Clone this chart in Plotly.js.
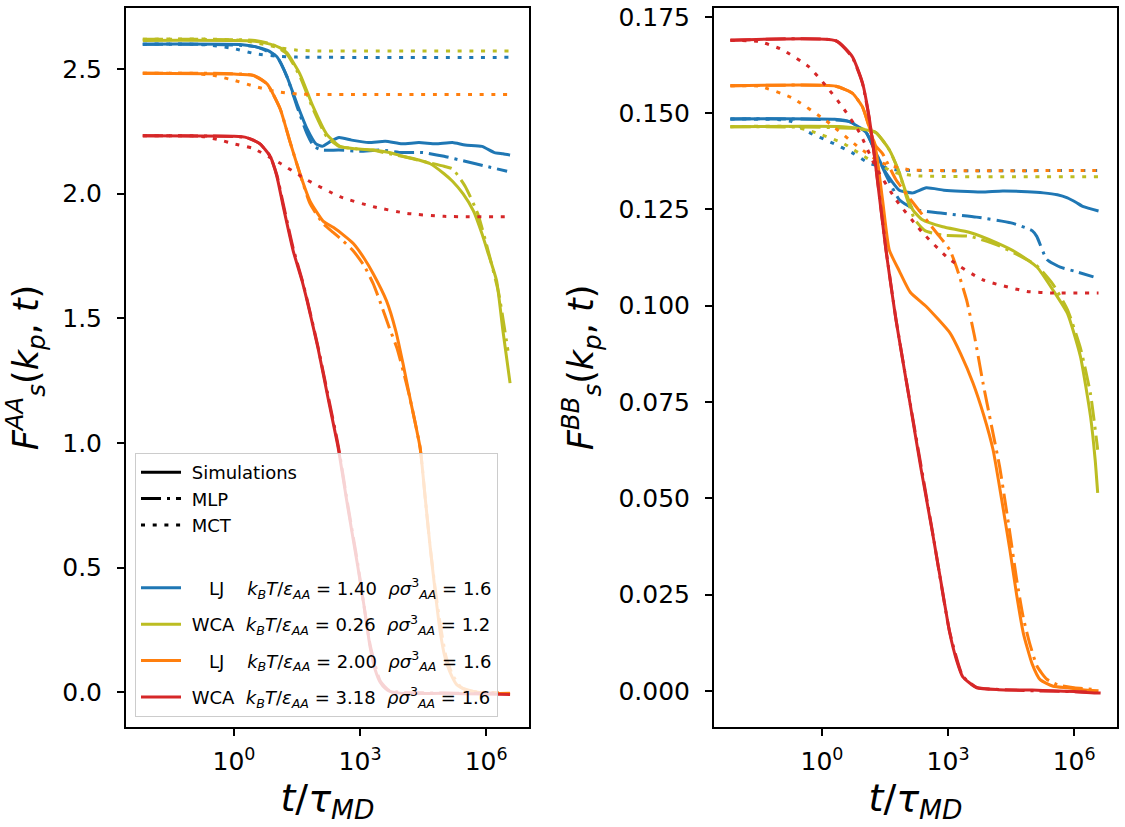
<!DOCTYPE html>
<html>
<head>
<meta charset="utf-8">
<script src="https://cdn.plot.ly/plotly-3.0.1.min.js"></script>
<style>
  body { margin: 0; background: #fff; }
  #chart { width: 1125px; height: 827px; }
</style>
</head>
<body>
<div id="chart"></div>
<script>
// every curve is a list of [log10(t/tau_MD), F_s] pairs

// left panel, F_s^AA
const aaLJ140Sim = [[-2.17, 2.600], [0.2, 2.598], [0.5, 2.59], [0.8, 2.575], [1.02, 2.55], [1.26, 2.47], [1.5, 2.36], [1.74, 2.26], [1.95, 2.20], [2.1, 2.19], [2.3, 2.21], [2.5, 2.225], [2.8, 2.215], [3.2, 2.205], [3.6, 2.21], [4.0, 2.20], [4.4, 2.205], [4.8, 2.20], [5.2, 2.205], [5.5, 2.195], [5.9, 2.19], [6.2, 2.165], [6.4, 2.16], [6.57, 2.155]];
const aaLJ140Mlp = [[-2.17, 2.600], [0.5, 2.59], [1.02, 2.55], [1.26, 2.47], [1.5, 2.35], [1.74, 2.24], [1.9, 2.19], [2.1, 2.175], [2.5, 2.175], [3.0, 2.17], [3.5, 2.175], [4.0, 2.165], [4.5, 2.165], [5.0, 2.15], [5.5, 2.13], [6.0, 2.11], [6.5, 2.09]];
const aaLJ140Mct = [[-2.17, 2.600], [-1.0, 2.600], [-0.5, 2.595], [0.0, 2.582], [0.5, 2.562], [1.0, 2.552], [1.5, 2.548], [2.5, 2.547], [6.57, 2.547]];

const aaWCA026Sim = [[-2.17, 2.615], [0.5, 2.612], [0.86, 2.60], [1.1, 2.585], [1.26, 2.565], [1.57, 2.48], [1.88, 2.35], [2.2, 2.24], [2.52, 2.19], [2.9, 2.18], [3.31, 2.175], [3.7, 2.165], [4.02, 2.15], [4.4, 2.135], [4.67, 2.12], [5.0, 2.08], [5.2, 2.05], [5.45, 2.00], [5.7, 1.93], [5.9, 1.84], [6.05, 1.76], [6.25, 1.65], [6.4, 1.45], [6.57, 1.24]];
const aaWCA026Mlp = [[-2.17, 2.62], [0.5, 2.615], [0.9, 2.60], [1.26, 2.56], [1.57, 2.47], [1.88, 2.34], [2.2, 2.23], [2.5, 2.19], [2.9, 2.18], [3.3, 2.175], [3.7, 2.16], [4.0, 2.15], [4.5, 2.13], [5.0, 2.11], [5.2, 2.10], [5.5, 2.03], [5.8, 1.92], [6.05, 1.77], [6.3, 1.60], [6.52, 1.37]];
const aaWCA026Mct = [[-2.17, 2.62], [-0.5, 2.62], [0.2, 2.615], [0.7, 2.60], [1.1, 2.585], [1.5, 2.576], [2.0, 2.573], [6.57, 2.573]];

const aaLJ200Sim = [[-2.17, 2.483], [0.0, 2.48], [0.45, 2.475], [0.79, 2.44], [1.1, 2.34], [1.33, 2.21], [1.57, 2.08], [1.81, 1.97], [2.12, 1.89], [2.36, 1.865], [2.6, 1.835], [2.84, 1.80], [3.1, 1.74], [3.31, 1.68], [3.63, 1.57], [3.85, 1.45], [4.02, 1.32], [4.2, 1.17], [4.43, 0.98], [4.55, 0.78], [4.67, 0.58], [4.79, 0.40], [4.90, 0.25], [5.02, 0.14], [5.14, 0.08], [5.3, 0.03], [5.5, 0.01], [5.8, 0.0], [6.2, -0.005], [6.57, -0.005]];
const aaLJ200Mlp = [[-2.17, 2.483], [0.45, 2.475], [0.79, 2.44], [1.1, 2.34], [1.33, 2.21], [1.57, 2.08], [1.81, 1.96], [2.12, 1.88], [2.36, 1.845], [2.6, 1.81], [2.84, 1.77], [3.1, 1.71], [3.31, 1.64], [3.47, 1.57], [3.7, 1.46], [3.88, 1.38], [4.1, 1.24], [4.2, 1.17], [4.43, 0.98], [4.55, 0.78], [4.67, 0.58], [4.8, 0.40], [4.92, 0.26], [5.05, 0.14], [5.2, 0.07], [5.4, 0.02], [5.7, 0.003], [6.3, -0.003]];
const aaLJ200Mct = [[-2.17, 2.483], [-1.0, 2.483], [-0.5, 2.475], [0.0, 2.455], [0.5, 2.43], [1.0, 2.41], [1.5, 2.40], [2.0, 2.398], [6.57, 2.398]];

const aaWCA318Sim = [[-2.17, 2.232], [0.0, 2.23], [0.3, 2.225], [0.62, 2.20], [0.86, 2.15], [1.02, 2.07], [1.17, 1.95], [1.41, 1.77], [1.62, 1.65], [1.74, 1.57], [2.0, 1.38], [2.25, 1.17], [2.48, 0.98], [2.7, 0.75], [2.95, 0.50], [3.1, 0.34], [3.24, 0.18], [3.36, 0.09], [3.48, 0.04], [3.6, 0.015], [3.71, 0.003], [4.0, -0.005], [5.0, -0.005], [6.0, -0.008], [6.57, -0.01]];
const aaWCA318Mlp = [[-2.17, 2.232], [0.3, 2.225], [0.62, 2.20], [0.86, 2.15], [1.02, 2.075], [1.17, 1.96], [1.41, 1.78], [1.62, 1.655], [1.74, 1.575], [2.0, 1.385], [2.25, 1.18], [2.48, 0.99], [2.7, 0.76], [2.95, 0.51], [3.24, 0.19], [3.48, 0.045], [3.71, 0.005], [4.5, -0.003], [6.3, -0.005]];
const aaWCA318Mct = [[-2.17, 2.232], [-1.0, 2.232], [-0.7, 2.228], [-0.33, 2.215], [0.0, 2.20], [0.45, 2.182], [1.1, 2.122], [1.74, 2.055], [2.52, 1.988], [3.31, 1.948], [4.12, 1.921], [5.0, 1.909], [6.57, 1.907]];

// right panel, F_s^BB
const bbLJ140Sim = [[-2.18, 0.1485], [0.3, 0.1484], [0.65, 0.1478], [1.05, 0.145], [1.28, 0.1397], [1.52, 0.1345], [1.84, 0.1300], [2.16, 0.1293], [2.48, 0.1306], [2.9, 0.1300], [3.3, 0.1297], [3.8, 0.1295], [4.3, 0.1298], [4.88, 0.1296], [5.27, 0.1293], [5.6, 0.1288], [5.84, 0.1280], [6.05, 0.1268], [6.22, 0.1257], [6.58, 0.1246]];
const bbLJ140Mlp = [[-2.18, 0.1485], [0.65, 0.1478], [1.05, 0.145], [1.28, 0.1397], [1.52, 0.134], [1.84, 0.1275], [2.24, 0.1249], [2.87, 0.1240], [3.68, 0.1230], [4.5, 0.1215], [5.0, 0.1195], [5.11, 0.118], [5.35, 0.112], [5.67, 0.110], [6.0, 0.109], [6.46, 0.1075]];
const bbLJ140Mct = [[-2.18, 0.1485], [-1.0, 0.1483], [-0.72, 0.1478], [-0.31, 0.145], [0.24, 0.1423], [0.72, 0.1397], [1.12, 0.137], [1.76, 0.1353], [2.3, 0.1351], [6.58, 0.1351]];

const bbWCA026Sim = [[-2.18, 0.1465], [0.5, 0.1465], [0.89, 0.146], [1.28, 0.145], [1.6, 0.1405], [1.84, 0.1345], [2.0, 0.1293], [2.16, 0.1249], [2.39, 0.1223], [2.87, 0.1205], [3.52, 0.1190], [4.16, 0.1163], [4.64, 0.1137], [5.12, 0.1100], [5.5, 0.1040], [5.84, 0.0980], [6.15, 0.0868], [6.39, 0.0712], [6.5, 0.0600], [6.56, 0.0514]];
const bbWCA026Mlp = [[-2.18, 0.1465], [0.89, 0.146], [1.28, 0.145], [1.6, 0.1405], [1.84, 0.1345], [2.0, 0.1285], [2.2, 0.1225], [2.45, 0.1195], [2.87, 0.1183], [3.52, 0.1180], [4.16, 0.1158], [4.64, 0.1133], [5.1, 0.1105], [5.5, 0.1055], [5.84, 0.0990], [6.15, 0.0890], [6.39, 0.0770], [6.56, 0.0626]];
const bbWCA026Mct = [[-2.18, 0.1465], [-0.7, 0.1465], [-0.31, 0.1455], [0.48, 0.1423], [1.12, 0.138], [1.76, 0.1345], [2.3, 0.1337], [6.58, 0.1335]];

const bbLJ200Sim = [[-2.18, 0.1571], [0.33, 0.157], [0.72, 0.1552], [0.96, 0.1517], [1.12, 0.1465], [1.28, 0.1405], [1.44, 0.1275], [1.6, 0.1145], [1.84, 0.109], [2.1, 0.1035], [2.48, 0.0998], [3.04, 0.093], [3.3, 0.0875], [3.59, 0.080], [3.85, 0.0715], [4.07, 0.0626], [4.27, 0.050], [4.47, 0.0366], [4.63, 0.025], [4.79, 0.015], [5.0, 0.007], [5.19, 0.0029], [5.5, 0.0012], [5.84, 0.0008], [6.2, 0.0003], [6.58, 0.0]];
const bbLJ200Mlp = [[-2.18, 0.1571], [0.33, 0.157], [0.72, 0.1552], [0.96, 0.1517], [1.12, 0.1465], [1.28, 0.1415], [1.44, 0.1395], [1.76, 0.1327], [2.24, 0.1257], [2.72, 0.119], [3.04, 0.1145], [3.2, 0.110], [3.44, 0.1015], [3.63, 0.092], [3.83, 0.080], [4.03, 0.069], [4.23, 0.058], [4.47, 0.041], [4.63, 0.029], [4.79, 0.019], [4.95, 0.012], [5.12, 0.0063], [5.35, 0.003], [5.6, 0.0016], [6.0, 0.0008], [6.5, 0.0003]];
const bbLJ200Mct = [[-2.18, 0.1571], [-1.5, 0.157], [-0.72, 0.154], [0.1, 0.148], [0.89, 0.141], [1.44, 0.137], [2.08, 0.1353], [2.6, 0.1351], [6.58, 0.1351]];

const bbWCA318Sim = [[-2.18, 0.1689], [0.33, 0.1688], [0.72, 0.1647], [0.96, 0.158], [1.12, 0.149], [1.28, 0.136], [1.52, 0.1145], [1.76, 0.0963], [2.08, 0.0756], [2.35, 0.058], [2.63, 0.041], [2.85, 0.027], [3.04, 0.015], [3.2, 0.008], [3.35, 0.0036], [3.68, 0.0008], [4.2, 0.0003], [5.0, 0.0002], [5.5, 0.0], [6.0, -0.0002], [6.4, -0.0005], [6.63, -0.0006]];
const bbWCA318Mlp = [[-2.18, 0.1689], [0.33, 0.1688], [0.72, 0.1645], [0.96, 0.1578], [1.12, 0.1488], [1.28, 0.1362], [1.52, 0.1148], [1.76, 0.0965], [2.08, 0.0758], [2.63, 0.0412], [3.04, 0.0152], [3.35, 0.0038], [3.68, 0.0009], [4.5, 0.0002], [6.3, -0.0003]];
const bbWCA318Mct = [[-2.18, 0.1689], [-1.5, 0.1686], [-0.95, 0.1665], [-0.31, 0.162], [0.1, 0.157], [0.48, 0.1517], [0.89, 0.145], [1.28, 0.136], [1.76, 0.1275], [2.39, 0.119], [3.04, 0.112], [3.83, 0.1067], [4.88, 0.1037], [5.5, 0.1033], [6.58, 0.1033]];

// legend text
const models = ['LJ', 'WCA', 'LJ', 'WCA'];
const kTValues = ['1.40', '0.26', '2.00', '3.18'];
const rhoValues = ['1.6', '1.2', '1.6', '1.6'];
const colors = ['#1f77b4', '#bcbd22', '#ff7f0e', '#d62728'];

const aaCurves = [
  [aaLJ140Sim, aaLJ140Mlp, aaLJ140Mct],
  [aaWCA026Sim, aaWCA026Mlp, aaWCA026Mct],
  [aaLJ200Sim, aaLJ200Mlp, aaLJ200Mct],
  [aaWCA318Sim, aaWCA318Mlp, aaWCA318Mct],
];
const bbCurves = [
  [bbLJ140Sim, bbLJ140Mlp, bbLJ140Mct],
  [bbWCA026Sim, bbWCA026Mlp, bbWCA026Mct],
  [bbLJ200Sim, bbLJ200Mlp, bbLJ200Mct],
  [bbWCA318Sim, bbWCA318Mlp, bbWCA318Mct],
];

const FONT = 'DejaVu Sans';
const NB = '\u00a0';
const dashes = ['solid', '20px,6px,3px,6px', '4px,7.7px'];
const styleNames = ['Simulations', 'MLP', 'MCT'];

function curve(pts, color, dash, xa, ya) {
  return {
    x: pts.map((p) => Math.pow(10, p[0])),
    y: pts.map((p) => p[1]),
    xaxis: xa,
    yaxis: ya,
    mode: 'lines',
    line: {color: color, width: 3, dash: dash, shape: 'spline', smoothing: 0.5},
    showlegend: false,
    hoverinfo: 'skip',
  };
}

function stateLabel(i) {
  const model = models[i] === 'LJ' ?
    NB.repeat(4) + 'LJ' + NB.repeat(4) : NB + 'WCA' + NB.repeat(2);
  return model +
    '<i>k</i><sub><i>B</i></sub><i>T</i>/<i>ε</i><sub><i>AA</i></sub> = ' + kTValues[i] +
    NB.repeat(2) + '<i>ρσ</i><sup>3</sup><sub><i>AA</i></sub> = ' + rhoValues[i];
}

const traces = [];

// legend-only entries
styleNames.forEach((name, k) => {
  traces.push({
    x: [null], y: [null], xaxis: 'x', yaxis: 'y', mode: 'lines', name: NB + name,
    legendgroup: 'styles',
    line: {color: '#000', width: 3, dash: dashes[k]},
  });
});
traces.push({
  x: [null], y: [null], xaxis: 'x', yaxis: 'y', mode: 'lines', name: NB,
  legendgroup: 'styles',
  line: {color: 'rgba(0,0,0,0)', width: 3},
});
colors.forEach((c, i) => {
  traces.push({
    x: [null], y: [null], xaxis: 'x', yaxis: 'y', mode: 'lines', name: stateLabel(i),
    legendgroup: 'state' + i,
    line: {color: c, width: 3},
  });
});

aaCurves.forEach((set, i) => {
  set.forEach((pts, k) => traces.push(curve(pts, colors[i], dashes[k], 'x', 'y')));
});
bbCurves.forEach((set, i) => {
  set.forEach((pts, k) => traces.push(curve(pts, colors[i], dashes[k], 'x2', 'y2')));
});

const axisBase = {
  showline: true,
  mirror: true,
  linecolor: '#000',
  linewidth: 2,
  ticks: 'outside',
  ticklen: 7,
  tickwidth: 2,
  tickcolor: '#000',
  showgrid: false,
  zeroline: false,
  tickfont: {family: FONT, size: 25, color: '#000'},
};

const xTicks = {
  type: 'log',
  range: [-2.57, 7.02],
  tickvals: [1, 1e3, 1e6],
  ticktext: ['10<sup>0</sup>', '10<sup>3</sup>', '10<sup>6</sup>'],
  ticklabelstandoff: 4,
  title: {
    text: '<i>t</i>/<i>τ</i><sub><i>MD</i></sub>',
    font: {family: FONT, size: 38, color: '#000'},
    standoff: 6,
  },
};

const layout = {
  width: 1125,
  height: 827,
  margin: {l: 0, r: 0, t: 0, b: 0},
  paper_bgcolor: '#fff',
  plot_bgcolor: '#fff',
  font: {family: FONT, color: '#000'},
  xaxis: Object.assign({}, axisBase, xTicks, {domain: [0.112, 0.4702], anchor: 'y'}),
  xaxis2: Object.assign({}, axisBase, xTicks, {domain: [0.6347, 0.9929], anchor: 'y2'}),
  yaxis: Object.assign({}, axisBase, {
    domain: [0.1209, 0.9903],
    anchor: 'x',
    range: [-0.14, 2.745],
    tickvals: [0, 0.5, 1, 1.5, 2, 2.5],
    tickformat: '.1f',
    ticklabelstandoff: 10,
    title: {
      text: '<i>F</i><sup><i>AA</i></sup><sub><i>s</i></sub>(<i>k</i><sub><i>p</i></sub>, <i>t</i>)',
      font: {family: FONT, size: 35, color: '#000'},
      standoff: 14,
    },
  }),
  yaxis2: Object.assign({}, axisBase, {
    domain: [0.1209, 0.9903],
    anchor: 'x2',
    range: [-0.0094, 0.1773],
    tickvals: [0, 0.025, 0.05, 0.075, 0.1, 0.125, 0.15, 0.175],
    tickformat: '.3f',
    ticklabelstandoff: 10,
    title: {
      text: '<i>F</i><sup><i>BB</i></sup><sub><i>s</i></sub>(<i>k</i><sub><i>p</i></sub>, <i>t</i>)',
      font: {family: FONT, size: 35, color: '#000'},
      standoff: 14,
    },
  }),
  showlegend: true,
  legend: {
    x: 0.12,
    y: 0.4523,
    xanchor: 'left',
    yanchor: 'top',
    bgcolor: 'rgba(255,255,255,0.8)',
    bordercolor: '#cccccc',
    borderwidth: 1,
    itemwidth: 40,
    traceorder: 'grouped',
    tracegroupgap: 10,
    font: {family: FONT, size: 18, color: '#000'},
  },
};

Plotly.newPlot('chart', traces, layout, {staticPlot: true});
</script>
</body>
</html>
